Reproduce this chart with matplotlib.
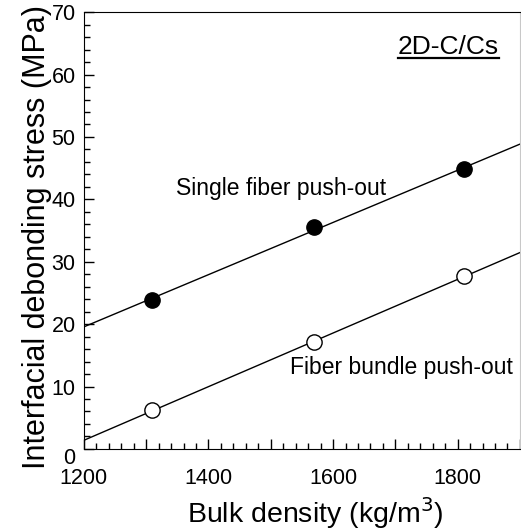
import matplotlib
matplotlib.use("Agg")
import matplotlib.pyplot as plt
import numpy as np
from matplotlib.ticker import MultipleLocator, FuncFormatter
from matplotlib.transforms import ScaledTranslation

plt.rcParams["font.family"] = ["Liberation Sans", "DejaVu Sans"]

# bulk density (kg/m3) and interfacial debonding stress (MPa)
density = [1310, 1570, 1810]
single_fiber = [23.9, 35.6, 44.8]
fiber_bundle = [6.2, 17.1, 27.7]
x_line = [1200, 1900]

fig = plt.figure(figsize=(5.21, 5.30), dpi=100)
ax = fig.add_axes([0.161, 0.153, 0.837, 0.824])

for ys, face in ((single_fiber, "black"), (fiber_bundle, "white")):
    k, b = np.polyfit(density, ys, 1)
    ax.plot(x_line, [k * x + b for x in x_line], color="black", lw=1.0, zorder=2)
    ax.plot(density, ys, "o", ms=11, mfc=face, mec="black", mew=1.0, zorder=3)

ax.text(1516, 41.8, "Single fiber push-out", fontsize=16.5, ha="center", va="center")
ax.text(1709, 13.1, "Fiber bundle push-out", fontsize=16.5, ha="center", va="center")
lbl = ax.text(1866, 64.4, "2D-C/Cs", fontsize=19, ha="right", va="center")

ax.set_xlim(1200, 1900)
ax.set_ylim(0, 70)
ax.xaxis.set_major_locator(MultipleLocator(100))
ax.xaxis.set_minor_locator(MultipleLocator(20))
ax.xaxis.set_major_formatter(FuncFormatter(lambda v, p: f"{v:.0f}" if v % 200 == 0 else ""))
ax.yaxis.set_major_locator(MultipleLocator(10))
ax.yaxis.set_minor_locator(MultipleLocator(2))
ax.tick_params(which="both", direction="in", top=False, right=False, labelsize=15.5)
ax.tick_params(which="major", length=7.5, width=1)
ax.tick_params(which="minor", length=4, width=1)
ax.tick_params(axis="x", pad=14)
ax.tick_params(axis="y", pad=6)
ax.spines["right"].set_color("#c8c8c8")
ax.set_xlabel("Bulk density (kg/m$^3$)", fontsize=20.5)
ax.set_ylabel("Interfacial debonding stress (MPa)", fontsize=22)
ax.xaxis.set_label_coords(0.53, -0.105)
ax.yaxis.set_label_coords(-0.072, 0.485)

fig.canvas.draw()
# first x label and zero y label are nudged apart like the original
ax.get_xticklabels()[0].set_transform(
    ax.get_xticklabels()[0].get_transform() + ScaledTranslation(8 / 100, 0, fig.dpi_scale_trans))
for t in ax.get_yticklabels():
    if t.get_text() == "0":
        t.set_transform(t.get_transform() + ScaledTranslation(0, -7 / 100, fig.dpi_scale_trans))

# underline the material label
bb = lbl.get_window_extent().transformed(ax.transData.inverted())
ax.plot([bb.x0, bb.x1], [bb.y0 + 0.2, bb.y0 + 0.2], color="black", lw=1.6)

fig.savefig("out.png", dpi=100)
